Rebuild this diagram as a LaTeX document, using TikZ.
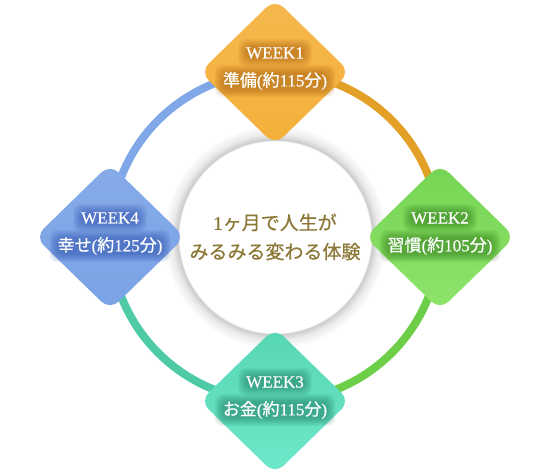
\documentclass[tikz,border=0pt]{standalone}
\usepackage{fontspec}
\setmainfont[FakeBold=0.4]{Liberation Serif}
\newfontfamily\jpfont[FakeBold=0.6]{Noto Sans CJK JP}
\usetikzlibrary{shapes.geometric}

\definecolor{wkorange}{HTML}{F4B03A}
\definecolor{wkorangearc}{HTML}{E3A026}
\definecolor{wkorangeglow}{HTML}{A0560A}
\definecolor{wkgreen}{HTML}{76D453}
\definecolor{wkgreenlt}{HTML}{8FE46C}
\definecolor{wkgreenarc}{HTML}{6DCE4A}
\definecolor{wkgreenglow}{HTML}{257010}
\definecolor{wkteal}{HTML}{57D6B4}
\definecolor{wktealt}{HTML}{6EE8CA}
\definecolor{wktealarc}{HTML}{4ECBA6}
\definecolor{wktealglow}{HTML}{16705A}
\definecolor{wkblue}{HTML}{7AA3E6}
\definecolor{wkbluearc}{HTML}{80A8E8}
\definecolor{wkblueglow}{HTML}{2346A8}
\definecolor{wkgold}{HTML}{8C7836}

\pgfdeclareradialshading{discglow}{\pgfpoint{0bp}{0bp}}{color(0bp)=(white); color(21.4bp)=(white); color(21.7bp)=(black!20); color(23bp)=(black!8); color(25bp)=(white); color(50bp)=(white)}

\pgfdeclarelayer{ring}
\pgfdeclarelayer{tiles}
\pgfdeclarelayer{glow}
\pgfsetlayers{ring,tiles,glow,main}

\newcommand{\jp}[1]{{\jpfont #1}}
% two white lines on a tile, with a soft dark halo behind them
\newcommand{\weeklabel}[5]{%
  \node[wktext,name=#1a] at ([yshift=19pt]#2.center) {#4};
  \node[wktext,name=#1b] at ([yshift=-9pt]#2.center) {#5};
  \begin{pgfonlayer}{glow}
  \foreach \g in {0,1,...,8}{
    \fill[#3,opacity=0.065,rounded corners=8pt] ([shift={(-\g,\g)}]#1a.south west) rectangle ([shift={(\g,-\g)}]#1a.north east);
    \fill[#3,opacity=0.065,rounded corners=8pt] ([shift={(-\g,\g-1)}]#1b.south west) rectangle ([shift={(\g,-\g+1)}]#1b.north east);
  }
  \end{pgfonlayer}
}

\tikzset{
  wkbox/.style={shape=diamond,minimum width=150pt,minimum height=146pt,rounded corners=12pt,inner sep=0pt,outer sep=0pt},
  wkarc/.style={line width=8pt},
  wktext/.style={text=white,inner sep=0pt,font=\fontsize{17}{20}\selectfont},
}

\begin{document}
\begin{tikzpicture}[x=1pt,y=-1pt]
\useasboundingbox (0,0) rectangle (550,474);
\coordinate (hub) at (275,237);

\begin{pgfonlayer}{tiles}
\node [wkbox,top color=wkorange!90!white,bottom color=wkorange,name=w1] at (275,72){};
\node [wkbox,top color=wkgreen,bottom color=wkgreenlt,name=w2] at (440,237){};
\node [wkbox,top color=wkteal,bottom color=wktealt,name=w3] at (275,401){};
\node [wkbox,top color=wkblue!92!white,bottom color=wkblue,name=w4] at (110,237){};
\end{pgfonlayer}

\begin{pgfonlayer}{ring}
\shade[shading=discglow] (hub) circle (112);
\draw[wkarc,wkorangearc] (w1.center) to[bend left=45] (w2.center);
\draw[wkarc,wkgreenarc] (w2.center) to[bend left=45] (w3.center);
\draw[wkarc,wktealarc] (w3.center) to[bend left=45] (w4.center);
\draw[wkarc,wkbluearc] (w4.center) to[bend left=45] (w1.center);
\end{pgfonlayer}

\weeklabel{t1}{w1}{wkorangeglow}{WEEK1}{\jp{準備}(\jp{約}115\jp{分})}
\weeklabel{t2}{w2}{wkgreenglow}{WEEK2}{\jp{習慣}(\jp{約}105\jp{分})}
\weeklabel{t3}{w3}{wktealglow}{WEEK3}{\jp{お金}(\jp{約}115\jp{分})}
\weeklabel{t4}{w4}{wkblueglow}{WEEK4}{\jp{幸せ}(\jp{約}125\jp{分})}

\node [text=wkgold,align=center,inner sep=0pt,font=\fontsize{19}{29}\selectfont,name=hubtext] at (hub) {1\jp{ヶ月で人生が}\\\jp{みるみる変わる体験}};
\end{tikzpicture}
\end{document}
